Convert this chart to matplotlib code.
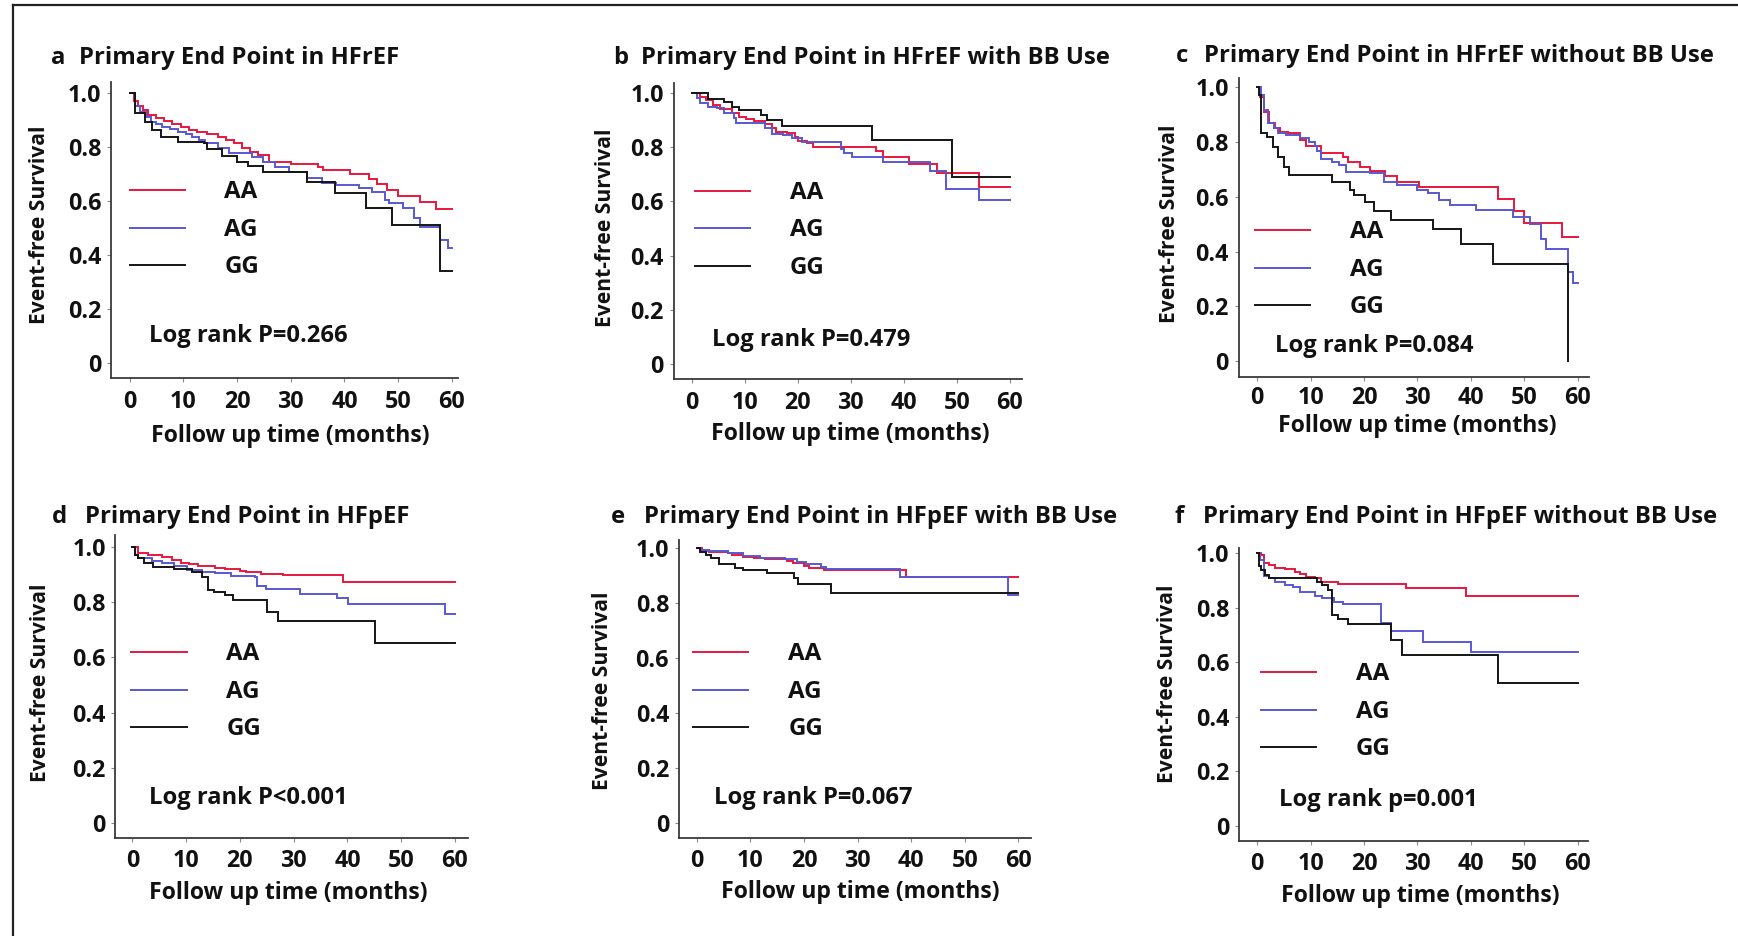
import matplotlib
matplotlib.use('Agg')
import matplotlib.pyplot as plt
from matplotlib.lines import Line2D

W, H = 1738, 936
FONT = 'Open Sans'
plt.rcParams['font.family'] = [FONT, 'DejaVu Sans']
plt.rcParams['font.weight'] = 'bold'

# ---------------- data (Kaplan-Meier step curves: time in months, survival) ----------------
groups = ['AA', 'AG', 'GG']
colors = {'AA': '#e8173c', 'AG': '#5858d2', 'GG': '#151515'}
ytick_vals = [0, 0.2, 0.4, 0.6, 0.8, 1.0]
ytick_labels = ['0', '0.2', '0.4', '0.6', '0.8', '1.0']
xtick_vals = [0, 10, 20, 30, 40, 50, 60]

letters = ['a', 'b', 'c', 'd', 'e', 'f']
titles = ['Primary End Point in HFrEF',
          'Primary End Point in HFrEF with BB Use',
          'Primary End Point in HFrEF without BB Use',
          'Primary End Point in HFpEF',
          'Primary End Point in HFpEF with BB Use',
          'Primary End Point in HFpEF without BB Use']
pvalues = ['Log rank P=0.266', 'Log rank P=0.479', 'Log rank P=0.084',
           'Log rank P<0.001', 'Log rank P=0.067', 'Log rank p=0.001']
xlabel = 'Follow up time (months)'
ylabel = 'Event-free Survival'

a_AA_t = [0, 0.8, 1.5, 2.5, 3.5, 5, 6.5, 8, 9.5, 11, 12.5, 14.5, 16.5, 18, 19.5, 21, 22.5, 24, 26, 30, 35, 36, 41, 44.5, 46, 48, 50, 54, 57, 60]
a_AA_s = [1.0, 0.97, 0.951, 0.935, 0.917, 0.905, 0.895, 0.884, 0.872, 0.862, 0.853, 0.847, 0.837, 0.825, 0.813, 0.794, 0.78, 0.77, 0.745, 0.736, 0.727, 0.714, 0.70, 0.681, 0.661, 0.64, 0.618, 0.597, 0.569, 0.569]
a_AG_t = [0, 1, 2, 3, 4, 5, 6, 7.5, 9, 10.5, 11.7, 13, 14.1, 16.5, 18.6, 22.7, 24.8, 27, 29.6, 33, 35.8, 38.5, 42.7, 45.1, 47.5, 48.2, 50.9, 53, 54, 57.8, 59.2, 60]
a_AG_s = [1.0, 0.95, 0.93, 0.91, 0.893, 0.883, 0.874, 0.865, 0.856, 0.846, 0.837, 0.825, 0.813, 0.794, 0.776, 0.764, 0.743, 0.725, 0.708, 0.683, 0.665, 0.659, 0.647, 0.634, 0.603, 0.591, 0.573, 0.536, 0.505, 0.456, 0.425, 0.425]
a_GG_t = [0, 1, 2.8, 4.1, 5.9, 9, 13.8, 14.5, 17.2, 20, 22, 24.8, 33, 38.2, 44, 48.9, 57.8, 60]
a_GG_s = [1.0, 0.925, 0.893, 0.862, 0.835, 0.819, 0.813, 0.791, 0.767, 0.745, 0.729, 0.708, 0.671, 0.628, 0.573, 0.511, 0.342, 0.342]

b_AA_t = [0, 1.5, 2.7, 4, 5.4, 7.5, 8.9, 10.3, 11.7, 13.8, 15.2, 15.9, 18, 19.4, 20.1, 21.8, 22.9, 34.8, 36.1, 41, 46.3, 54.1, 60]
b_AA_s = [1.0, 0.985, 0.973, 0.955, 0.939, 0.924, 0.912, 0.903, 0.897, 0.885, 0.871, 0.857, 0.85, 0.836, 0.823, 0.816, 0.801, 0.785, 0.764, 0.737, 0.703, 0.652, 0.652]
b_AG_t = [0, 0.9, 1.6, 3, 4.7, 6.1, 7.9, 8.3, 13.8, 15.2, 17.3, 19, 20.8, 28.1, 28.8, 30.2, 36.1, 44.9, 48, 54.1, 60]
b_AG_s = [1.0, 0.98, 0.961, 0.946, 0.942, 0.924, 0.906, 0.887, 0.869, 0.848, 0.844, 0.832, 0.82, 0.791, 0.777, 0.764, 0.744, 0.713, 0.645, 0.605, 0.605]
b_GG_t = [0, 3, 6.1, 7.5, 8.9, 13.1, 14.2, 17, 34.1, 49.1, 60]
b_GG_s = [1.0, 0.975, 0.964, 0.949, 0.936, 0.918, 0.899, 0.877, 0.826, 0.688, 0.688]

c_AA_t = [0, 0.5, 1.2, 2.2, 3.3, 4.3, 5.7, 8.1, 9.1, 11.9, 16.1, 17.1, 19.2, 21.2, 24, 26.1, 30.2, 45, 48.1, 50, 57.1, 60]
c_AA_s = [1.0, 0.966, 0.911, 0.871, 0.85, 0.838, 0.832, 0.808, 0.787, 0.761, 0.747, 0.728, 0.71, 0.694, 0.677, 0.655, 0.637, 0.592, 0.549, 0.505, 0.454, 0.454]
c_AG_t = [0, 0.7, 1.2, 2.1, 3.1, 4, 5.4, 8.1, 9.8, 10.9, 11.2, 11.9, 14, 15.4, 16.7, 21.2, 23.7, 26.1, 29.9, 32, 34, 36.1, 41, 47.9, 51, 53.1, 54.1, 58.1, 59.1, 60]
c_AG_s = [1.0, 0.972, 0.917, 0.871, 0.85, 0.834, 0.826, 0.814, 0.801, 0.787, 0.769, 0.737, 0.728, 0.716, 0.692, 0.686, 0.655, 0.643, 0.625, 0.613, 0.588, 0.57, 0.552, 0.527, 0.501, 0.445, 0.408, 0.326, 0.284, 0.284]
c_GG_t = [0, 0.4, 0.8, 1.9, 2.9, 3.9, 5, 6, 14, 17.4, 18.1, 20.2, 21.9, 25.1, 33, 38.1, 44.1, 58.1]
c_GG_s = [1.0, 0.972, 0.832, 0.82, 0.783, 0.747, 0.71, 0.68, 0.655, 0.625, 0.607, 0.582, 0.548, 0.515, 0.481, 0.426, 0.355, 0.0]

d_AA_t = [0, 1, 2.9, 5.6, 7.4, 9.1, 10.5, 12.2, 15.3, 17.3, 20.1, 21.1, 23.9, 28, 39.2, 60]
d_AA_s = [1.0, 0.978, 0.97, 0.961, 0.952, 0.942, 0.936, 0.93, 0.924, 0.918, 0.912, 0.907, 0.901, 0.896, 0.871, 0.871]
d_AG_t = [0, 0.5, 1.1, 3.6, 5.6, 7.7, 10.1, 12.9, 15.3, 18.4, 22.8, 23.2, 24.9, 31.1, 38, 40.1, 58.2, 60]
d_AG_s = [1.0, 0.97, 0.958, 0.949, 0.94, 0.931, 0.916, 0.91, 0.904, 0.894, 0.889, 0.859, 0.847, 0.828, 0.813, 0.793, 0.755, 0.755]
d_GG_t = [0, 0.4, 1, 2.2, 3.9, 7.7, 11.1, 12.9, 14, 15.1, 17.3, 18.7, 25.1, 27, 45.1, 60]
d_GG_s = [1.0, 0.97, 0.958, 0.942, 0.928, 0.918, 0.91, 0.892, 0.843, 0.835, 0.824, 0.807, 0.763, 0.733, 0.653, 0.653]

e_AA_t = [0, 1, 2.3, 5.8, 6.5, 8.6, 10.6, 12.7, 16.9, 17.9, 20, 21, 23.8, 39, 60]
e_AA_s = [1.0, 0.994, 0.988, 0.982, 0.976, 0.97, 0.964, 0.96, 0.954, 0.945, 0.937, 0.927, 0.921, 0.894, 0.894]
e_AG_t = [0, 0.6, 2, 5.8, 8.6, 11.7, 16.5, 18.6, 20.3, 23.1, 24.1, 37.9, 58.1, 60]
e_AG_s = [1.0, 0.994, 0.99, 0.982, 0.972, 0.966, 0.96, 0.951, 0.943, 0.933, 0.925, 0.894, 0.83, 0.83]
e_GG_t = [0, 0.6, 1.7, 2.7, 4.1, 7.2, 8.6, 13.1, 18.2, 18.9, 25.1, 60]
e_GG_s = [1.0, 0.988, 0.976, 0.964, 0.942, 0.93, 0.921, 0.909, 0.891, 0.869, 0.838, 0.838]

f_AA_t = [0, 0.7, 1.2, 2.2, 3.3, 5.3, 7.1, 8.1, 9.1, 10.9, 11.9, 15.2, 27.8, 39, 60]
f_AA_s = [1.0, 0.994, 0.966, 0.957, 0.947, 0.943, 0.933, 0.923, 0.914, 0.908, 0.896, 0.888, 0.874, 0.844, 0.844]
f_AG_t = [0, 0.5, 1.2, 2.2, 3.3, 5.3, 6.7, 8.1, 10.9, 12.2, 14.3, 16.1, 23.1, 25.1, 31.1, 40.1, 60]
f_AG_s = [1.0, 0.976, 0.917, 0.908, 0.896, 0.884, 0.878, 0.857, 0.844, 0.835, 0.823, 0.813, 0.746, 0.715, 0.676, 0.639, 0.639]
f_GG_t = [0, 0.3, 0.8, 1.5, 2.2, 11.2, 12.2, 13.3, 14, 15.2, 17.1, 25.1, 27.1, 45.1, 60]
f_GG_s = [1.0, 0.954, 0.939, 0.92, 0.908, 0.896, 0.884, 0.866, 0.775, 0.759, 0.741, 0.682, 0.627, 0.523, 0.523]

series = {
    'a': {'AA': (a_AA_t, a_AA_s), 'AG': (a_AG_t, a_AG_s), 'GG': (a_GG_t, a_GG_s)},
    'b': {'AA': (b_AA_t, b_AA_s), 'AG': (b_AG_t, b_AG_s), 'GG': (b_GG_t, b_GG_s)},
    'c': {'AA': (c_AA_t, c_AA_s), 'AG': (c_AG_t, c_AG_s), 'GG': (c_GG_t, c_GG_s)},
    'd': {'AA': (d_AA_t, d_AA_s), 'AG': (d_AG_t, d_AG_s), 'GG': (d_GG_t, d_GG_s)},
    'e': {'AA': (e_AA_t, e_AA_s), 'AG': (e_AG_t, e_AG_s), 'GG': (e_GG_t, e_GG_s)},
    'f': {'AA': (f_AA_t, f_AA_s), 'AG': (f_AG_t, f_AG_s), 'GG': (f_GG_t, f_GG_s)},
}

# ---------------- layout ----------------
# Horizontal positions were measured in a column frame starting at 'ox' and
# compressed by SX; they are expanded back to canvas pixels below.
SX = 1740.0 / 1568.0
layout = {
    'a': dict(ox=0, box=(100, 82, 413, 378), xcal=(116.7, 407.3), ycal=(363.3, 92.7),
              letter=(46, 64), title=(71, 64), ptxt=(134, 341.7), leg=(117, 167, 202, 190),
              xlab=(262, 441.7), ylab=(35.7, 224.5), xpad=5.5),
    'b': dict(ox=580, box=(664.3, 83.3, 978.3, 379.3), xcal=(680.7, 967.3), ycal=(364.3, 92.7),
              letter=(610, 64), title=(635, 64), ptxt=(699.3, 345.7), leg=(683.3, 733.3, 769, 190.7),
              xlab=(823.3, 440), ylab=(602.7, 228), xpad=5.5),
    'c': dict(ox=1158, box=(1230.7, 78, 1546.3, 376.7), xcal=(1247.3, 1536.3), ycal=(361, 87.3),
              letter=(1174, 62.3), title=(1199.7, 62.3), ptxt=(1263, 351.7), leg=(1245.3, 1295.3, 1330.7, 230),
              xlab=(1391.8, 431.7), ylab=(1168.7, 224), xpad=3.5),
    'd': dict(ox=0, box=(104, 535, 421.7, 838.3), xcal=(119.3, 410), ycal=(823.3, 546.7),
              letter=(46.7, 523.3), title=(76.7, 523.3), ptxt=(134, 804.3), leg=(118.3, 168.3, 204, 652.3),
              xlab=(259.5, 899.3), ylab=(36.7, 682.5), xpad=5),
    'e': dict(ox=580, box=(669, 540, 986, 838.3), xcal=(685.3, 975), ycal=(822.7, 548.3),
              letter=(608, 522.7), title=(638, 522.7), ptxt=(700.7, 804.3), leg=(681.7, 731.7, 767.7, 652.3),
              xlab=(832.8, 898.3), ylab=(600.7, 690.8), xpad=5),
    'f': dict(ox=1158, box=(1231.3, 548.3, 1545.7, 841), xcal=(1247.3, 1536.3), ycal=(826, 553.3),
              letter=(1173, 522.7), title=(1198.7, 522.7), ptxt=(1267, 805.7), leg=(1250.7, 1300.7, 1336.3, 672.3),
              xlab=(1394.7, 901.7), ylab=(1166.3, 684), xpad=5),
}
LEG_STEP = 37.5   # px between legend rows

fig = plt.figure(figsize=(W / 100, H / 100), dpi=100)
fig.patch.set_facecolor('white')
renderer = fig.canvas.get_renderer()


def fit(text, target_px, probe=20.0):
    t = fig.text(0, 0, text, fontsize=probe, fontweight='bold')
    w = t.get_window_extent(renderer=renderer).width
    t.remove()
    return probe * target_px / w


TITLE_FS = fit('Primary End Point in HFrEF', 287 * SX)
PTXT_FS = fit('Log rank P=0.266', 179 * SX)
XLAB_FS = fit(xlabel, 251 * SX)
YLAB_FS = fit(ylabel, 197)
TICK_FS = fit('1.0', 30 * SX)
LEG_FS = fit('AA', 30 * SX)


def fx(px):
    return px / W


def fy(py):
    return 1 - py / H


for i, key in enumerate(letters):
    L = layout[key]
    ox = L['ox']

    def X(v):
        return ox + (v - ox) * SX

    l, t, r, b = L['box']
    l, r = X(l), X(r)
    ax = fig.add_axes([fx(l), fy(b), (r - l) / W, (b - t) / H])
    x0, x60 = X(L['xcal'][0]), X(L['xcal'][1])
    y0, y1 = L['ycal']
    kx = (x60 - x0) / 60.0
    ky = (y0 - y1) / 1.0
    ax.set_xlim(0 - (x0 - l) / kx, 60 + (r - x60) / kx)
    ax.set_ylim(0 - (b - y0) / ky, 1 + (y1 - t) / ky)

    for g in groups:
        tt, ss = series[key][g]
        ax.plot(tt, ss, drawstyle='steps-post', color=colors[g], lw=1.4, solid_joinstyle='miter')

    for side in ['top', 'right']:
        ax.spines[side].set_visible(False)
    for side in ['left', 'bottom']:
        ax.spines[side].set_color('#3a3a3a')
        ax.spines[side].set_linewidth(1.3)
    ax.set_xticks(xtick_vals)
    ax.set_yticks(ytick_vals)
    ax.set_yticklabels(ytick_labels)
    ax.tick_params(axis='both', direction='out', length=3, width=0.8, color='#8a8a8a',
                   labelsize=TICK_FS, labelcolor='#111111')
    ax.tick_params(axis='y', pad=4)
    ax.tick_params(axis='x', pad=L['xpad'])
    for lab in ax.get_xticklabels() + ax.get_yticklabels():
        lab.set_fontweight('bold')

    def axc(px, py):
        return ((X(px) - l) / (r - l), (b - py) / (b - t))

    # axis labels
    ax.set_xlabel(xlabel, fontsize=XLAB_FS, fontweight='bold', color='#111111')
    ax.xaxis.set_label_coords(*axc(*L['xlab']))
    ax.xaxis.label.set_va('baseline')
    ax.set_ylabel(ylabel, fontsize=YLAB_FS, fontweight='bold', color='#111111')
    ax.yaxis.set_label_coords(*axc(*L['ylab']))
    ax.yaxis.label.set_va('center')
    ax.yaxis.label.set_ha('center')

    # legend (drawn inside the axes as in the original figure)
    hx0, hx1, tx, ly = L['leg']
    for j, g in enumerate(groups):
        yy = ly + j * LEG_STEP
        p0 = axc(hx0, yy)
        p1 = axc(hx1, yy)
        ax.add_line(Line2D([p0[0], p1[0]], [p0[1], p1[1]], transform=ax.transAxes,
                           color=colors[g], lw=1.4))
        ax.text(*axc(tx, yy + 8), g, transform=ax.transAxes, fontsize=LEG_FS,
                fontweight='bold', ha='left', va='baseline', color='#111111')

    # log-rank text
    ax.text(*axc(*L['ptxt']), pvalues[i], transform=ax.transAxes, fontsize=PTXT_FS,
            fontweight='bold', ha='left', va='baseline', color='#111111')

    # panel letter + title
    fig.text(fx(X(L['letter'][0])), fy(L['letter'][1]), key, fontsize=TITLE_FS,
             fontweight='bold', ha='left', va='baseline', color='#111111')
    fig.text(fx(X(L['title'][0])), fy(L['title'][1]), titles[i], fontsize=TITLE_FS,
             fontweight='bold', ha='left', va='baseline', color='#111111')

# figure frame lines (left and top)
fig.add_artist(Line2D([fx(12.5), fx(12.5)], [fy(4.5), 0], transform=fig.transFigure,
                      color='#222222', lw=1.6))
fig.add_artist(Line2D([fx(12.5), 1], [fy(4.5), fy(4.5)], transform=fig.transFigure,
                      color='#222222', lw=1.6))

fig.savefig('out.png', dpi=100, facecolor='white')
